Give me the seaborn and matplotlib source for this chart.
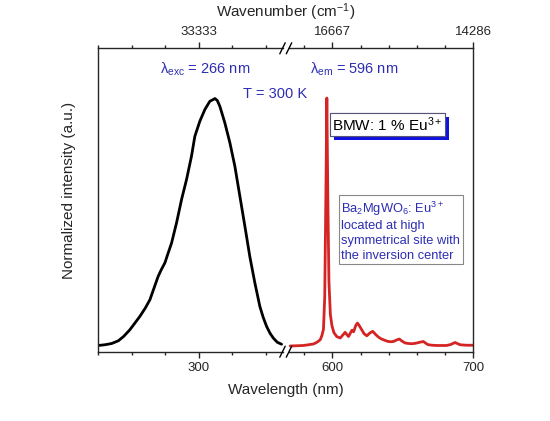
import numpy as np
import pandas as pd
import matplotlib.pyplot as plt
import seaborn as sns
from matplotlib.lines import Line2D
from matplotlib import patheffects

# excitation spectrum (black curve)
exc_nm = [150, 160, 170, 180, 188, 197, 204, 212, 220, 227, 233, 239.3, 244, 249.3, 254,
          259.3, 266.7, 274.2, 281.6, 289, 294, 301.5, 309, 316.4, 320, 324, 327.5, 331.3,
          338.8, 346.3, 353.7, 361.2, 368.7, 376, 383.6, 391, 396, 401, 406, 411, 417, 423.4]
exc_int = [0.005, 0.008, 0.013, 0.024, 0.042, 0.068, 0.093, 0.122, 0.155, 0.189, 0.235, 0.283,
           0.31, 0.337, 0.375, 0.417, 0.498, 0.592, 0.672, 0.766, 0.846, 0.907, 0.954, 0.987,
           0.992, 0.998, 0.99, 0.967, 0.9, 0.82, 0.726, 0.605, 0.484, 0.363, 0.256, 0.162,
           0.118, 0.082, 0.055, 0.035, 0.018, 0.01]

# emission spectrum (red curve)
em_nm = [570, 575, 579.4, 583, 586.5, 589, 591.3, 592.5, 593.6, 594.5, 595.3, 596, 596.7,
         597.5, 598.5, 599.6, 601, 603, 605.5, 607.5, 609, 610.3, 611.4, 612.7, 613.8, 615,
         616.5, 617.7, 619, 620.8, 622.5, 624.4, 626.5, 628.6, 630.5, 632.6, 634.5, 636.2,
         638, 639.7, 641.5, 643.3, 645.5, 647.5, 649.5, 651.6, 654, 656.3, 658, 659.9, 662,
         664.5, 666.5, 668, 671, 674, 678, 681, 684, 687, 690.6, 695, 700]
em_int = [0.003, 0.004, 0.005, 0.008, 0.011, 0.018, 0.028, 0.045, 0.07, 0.2, 0.6, 1.0, 0.6,
          0.26, 0.13, 0.085, 0.057, 0.041, 0.035, 0.048, 0.058, 0.048, 0.041, 0.055, 0.066, 0.06,
          0.085, 0.095, 0.085, 0.068, 0.052, 0.044, 0.055, 0.062, 0.05, 0.039, 0.032, 0.028,
          0.024, 0.021, 0.02, 0.021, 0.027, 0.031, 0.022, 0.015, 0.013, 0.012, 0.013, 0.015, 0.018,
          0.021, 0.013, 0.008, 0.006, 0.005, 0.005, 0.005, 0.009, 0.017, 0.008, 0.006, 0.006]

left_range = (150, 430)
right_range = (567, 700)
left_major, left_minor = [300], [150, 200, 250, 350, 400]
right_major, right_minor = [600, 700], [580, 620, 640, 660, 680]

sns.set_style("ticks")
plt.rcParams['font.family'] = ['Liberation Sans', 'DejaVu Sans']
plt.rcParams['mathtext.fontset'] = 'custom'
plt.rcParams['mathtext.rm'] = 'Liberation Sans'
plt.rcParams['mathtext.it'] = 'Liberation Sans:italic'
plt.rcParams['mathtext.default'] = 'regular'
plt.rcParams['lines.solid_joinstyle'] = 'round'

W, H = 550, 421
fig = plt.figure(figsize=(W / 100, H / 100), dpi=100)


def px(x, y):
    return x / W, 1 - y / H


x0, xm, x1 = 98.3, 286.0, 473.3
ytop, ybot = 48.3, 351.7
ax_l = fig.add_axes([x0 / W, 1 - ybot / H, (xm - x0) / W, (ybot - ytop) / H])
ax_r = fig.add_axes([xm / W, 1 - ybot / H, (x1 - xm) / W, (ybot - ytop) / H])

sns.lineplot(x=exc_nm, y=exc_int, ax=ax_l, color='black', lw=2)
sns.lineplot(x=em_nm, y=em_int, ax=ax_r, color='#d42424', lw=2)

blue = '#2d2db4'
spine_w = 1.0
for ax, rng, maj, mnr, side in [(ax_l, left_range, left_major, left_minor, 'l'),
                                (ax_r, right_range, right_major, right_minor, 'r')]:
    ax.set_xlim(rng)
    ax.set_ylim(-0.02, 1.2)
    ax.set_yticks([])
    ax.set_xticks(maj)
    ax.set_xticks(mnr, minor=True)
    ax.set_xticklabels([str(v) for v in maj], fontsize=9.5)
    ax.tick_params(axis='x', which='major', direction='out', length=4.5, width=spine_w, pad=3)
    ax.tick_params(axis='x', which='minor', direction='out', length=2.5, width=spine_w)
    ax.spines['top'].set_visible(False)
    for s in ax.spines.values():
        s.set_linewidth(spine_w)
    tw = ax.twiny()
    tw.set_xlim(rng)
    tw.set_xticks(maj)
    tw.set_xticks(mnr, minor=True)
    tw.set_xticklabels([f"{1e7 / v:.0f}" for v in maj], fontsize=9.5)
    tw.tick_params(axis='x', which='major', direction='out', length=4.5, width=spine_w, pad=3)
    tw.tick_params(axis='x', which='minor', direction='out', length=2.5, width=spine_w)
    for k in ['left', 'right', 'bottom']:
        tw.spines[k].set_visible(False)
    tw.spines['top'].set_linewidth(spine_w)
    if side == 'l':
        ax.spines['right'].set_visible(False)
        stop = rng[0] + (283 - x0) / (xm - x0) * (rng[1] - rng[0])
        ax.spines['bottom'].set_bounds(rng[0], stop)
        tw.spines['top'].set_bounds(rng[0], stop)
    else:
        ax.spines['left'].set_visible(False)
        start = rng[0] + (289 - xm) / (x1 - xm) * (rng[1] - rng[0])
        ax.spines['bottom'].set_bounds(start, rng[1])
        tw.spines['top'].set_bounds(start, rng[1])

# axis break marks
for yc in (ybot, ytop):
    for xc in (282.5, 289.0):
        xa, ya = px(xc - 2.7, yc + 5.5)
        xb, yb = px(xc + 2.7, yc - 5.5)
        fig.add_artist(Line2D([xa, xb], [ya, yb], color='black', lw=1.0))

fig.text(*px(286, 390), 'Wavelength (nm)', ha='center', va='center', fontsize=11)
fig.text(*px(286, 12), 'Wavenumber (cm$^{-1}$)', ha='center', va='center', fontsize=11)
fig.text(*px(69, 190), 'Normalized intensity (a.u.)', ha='center', va='center',
         rotation=90, fontsize=11)

fig.text(*px(205, 73.3), 'λ$_{exc}$ = 266 nm', ha='center', va='baseline',
         fontsize=10.5, color=blue)
fig.text(*px(354, 73.3), 'λ$_{em}$ = 596 nm', ha='center', va='baseline',
         fontsize=10.5, color=blue)
fig.text(*px(275, 97.7), 'T = 300 K', ha='center', va='baseline',
         fontsize=10.5, color=blue)

t1 = fig.text(*px(387.5, 124.3), 'BMW: 1 % Eu$^{3+}$', ha='center', va='center',
              fontsize=11, color='black',
              bbox=dict(boxstyle='square,pad=0.15', fc='white', ec='#555577', lw=0.8))
t1.get_bbox_patch().set_path_effects([
    patheffects.withSimplePatchShadow(offset=(3, -3), shadow_rgbFace='#1010e0', alpha=1.0),
    patheffects.Normal()])

fig.text(*px(400.8, 230.5),
         'Ba$_2$MgWO$_6$: Eu$^{3+}$\nlocated at high\nsymmetrical site with\nthe inversion center',
         ha='center', va='center', multialignment='left', fontsize=9.3, color=blue,
         linespacing=1.3,
         bbox=dict(boxstyle='square,pad=0.2', fc='white', ec='#888888', lw=0.8))

fig.savefig('out.png', dpi=100)
